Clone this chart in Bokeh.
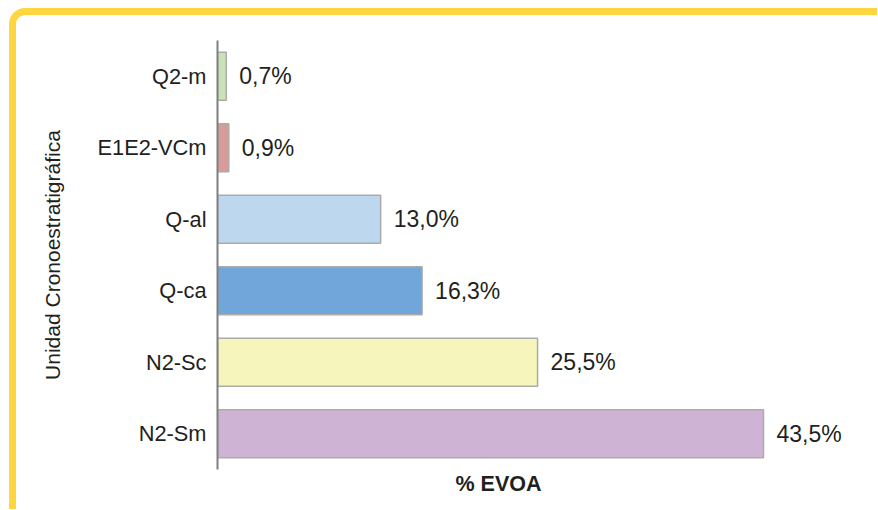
from bokeh.plotting import figure
from bokeh.models import ColumnDataSource, FactorRange, Range1d, Title
from bokeh.core.properties import value
from bokeh.embed import file_html
from bokeh.resources import INLINE

# ---- data (top to bottom as shown in the chart) ----
categories = ["Q2-m", "E1E2-VCm", "Q-al", "Q-ca", "N2-Sc", "N2-Sm"]
percent = [0.7, 0.9, 13.0, 16.3, 25.5, 43.5]
colors = ["#C9E3B6", "#D99A9A", "#BDD7EE", "#70A6DA", "#F6F6BC", "#CFB3D5"]
x_title = "% EVOA"
y_title = "Unidad Cronoestratigráfica"

labels = [f"{v:.1f}".replace(".", ",") + "%" for v in percent]

src = ColumnDataSource(dict(cat=categories, val=percent, col=colors, lab=labels))

FONT = "Liberation Sans"
TXT = "#231f20"

p = figure(
    width=868, height=501,
    y_range=FactorRange(factors=list(reversed(categories)), range_padding=0),
    x_range=Range1d(0, 51.15),
    output_backend="svg", toolbar_location=None,
    min_border_left=201, min_border_right=25, min_border_top=25, min_border_bottom=47,
    styles={
        "border-top": "7px solid #FFD540",
        "border-left": "7px solid #FFD540",
        "border-top-left-radius": "16px",
        "margin-left": "9px",
        "margin-top": "8px",
        "margin-bottom": "-8px",
        "margin-right": "-8px",
        "overflow": "hidden",
    },
)
p.border_fill_color = None
p.background_fill_color = None
p.outline_line_color = None
p.xgrid.visible = False
p.ygrid.visible = False
p.xaxis.visible = False

p.hbar(y="cat", right="val", left=0, height=0.67, source=src,
       fill_color="col", line_color="#ABABAB", line_width=1.5)

p.text(x="val", y="cat", text="lab", source=src, x_offset=13,
       text_baseline="middle", text_align="left",
       text_font=value(FONT), text_font_size="23px", text_color=TXT)

ya = p.yaxis[0]
ya.axis_line_color = "#7F7F7F"
ya.axis_line_width = 2
ya.major_tick_line_color = None
ya.minor_tick_line_color = None
ya.major_label_standoff = 5
ya.major_label_text_font = FONT
ya.major_label_text_font_size = "21.8px"
ya.major_label_text_color = TXT
ya.axis_label = y_title
ya.axis_label_text_font = FONT
ya.axis_label_text_font_size = "21px"
ya.axis_label_text_font_style = "normal"
ya.axis_label_text_color = TXT
ya.axis_label_standoff = 30

t = Title(text=x_title, align="left", offset=238, standoff=1,
          text_font=FONT, text_font_size="21.5px", text_font_style="bold",
          text_color=TXT)
p.add_layout(t, "below")

open("out.html", "w").write(file_html(p, INLINE))
